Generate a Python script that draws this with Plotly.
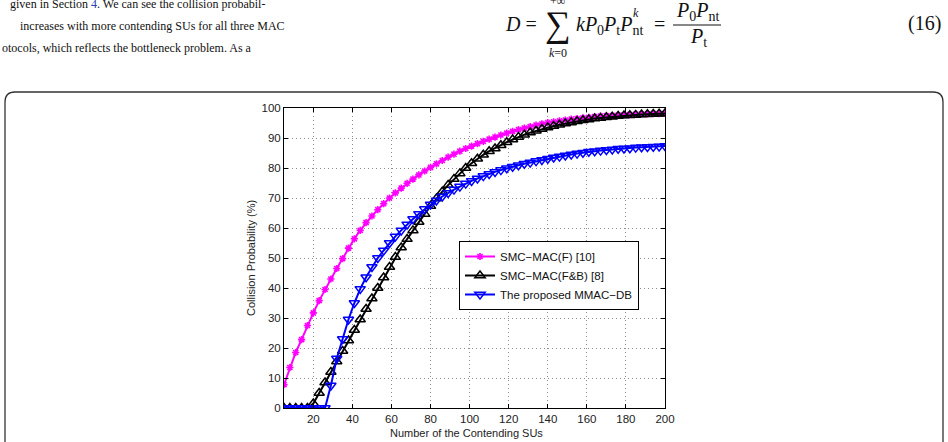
import plotly.graph_objects as go

# ---------------- data ----------------
x_sus = list(range(5, 201, 3))  # 5, 8, ..., 200

smc_f = [7.8, 13.5, 18.5, 22.8, 27.5, 31.7, 35.8, 39.5, 43.0, 46.5,
         49.8, 53.3, 56.4, 59.2, 61.8, 64.0, 66.1, 68.1, 70.0, 71.7,
         73.3, 74.9, 76.3, 77.7, 79.0, 80.2, 81.4, 82.5, 83.6, 84.6,
         85.6, 86.5, 87.3, 88.1, 88.9, 89.6, 90.3, 91.0, 91.6, 92.2,
         92.8, 93.3, 93.8, 94.3, 94.7, 95.1, 95.4, 95.7, 96.0, 96.3,
         96.5, 96.7, 96.9, 97.1, 97.3, 97.4, 97.5, 97.6, 97.7, 97.8,
         97.9, 98.0, 98.0, 98.1, 98.1, 98.2]

smc_fb = [0.0, 0.0, 0.0, 0.0, 0.0, 1.5, 5.0, 8.5, 12.0, 15.5,
          19.0, 22.5, 26.0, 29.5, 33.0, 36.5, 40.0, 43.5, 47.0, 50.3,
          53.5, 56.3, 59.2, 62.0, 64.7, 67.3, 69.8, 72.1, 74.3, 76.3,
          78.2, 80.0, 81.6, 83.1, 84.4, 85.6, 86.5, 87.6, 88.6, 89.5,
          90.3, 91.1, 91.8, 92.4, 93.0, 93.5, 94.0, 94.4, 94.8, 95.2,
          95.6, 95.9, 96.2, 96.5, 96.7, 96.9, 97.1, 97.3, 97.5, 97.6,
          97.7, 97.8, 97.9, 98.0, 98.1, 98.2]

mmac_db = [0.0, 0.0, 0.0, 0.0, 0.0, 0.0, 0.0, 0.0, 7.5, 16.5,
           23.0, 29.5, 35.0, 39.7, 43.6, 47.0, 50.0, 52.5, 55.0, 57.2,
           59.2, 61.2, 63.0, 64.7, 66.3, 67.8, 69.2, 70.5, 71.7, 72.8,
           73.8, 74.8, 75.7, 76.5, 77.3, 78.0, 78.7, 79.3, 79.9, 80.4,
           80.9, 81.4, 81.8, 82.3, 82.7, 83.1, 83.5, 83.8, 84.2, 84.5,
           84.8, 85.1, 85.4, 85.6, 85.8, 86.0, 86.2, 86.4, 86.5, 86.6,
           86.8, 86.9, 87.0, 87.1, 87.2, 87.3]

series_names = ["SMC\u2212MAC(F) [10]", "SMC\u2212MAC(F&B) [8]", "The proposed MMAC\u2212DB"]
x_ticks = list(range(20, 201, 20))
y_ticks = list(range(0, 101, 10))

# ---------------- layout helpers ----------------
W, H = 948, 442
L, R, T, B = 284, 283, 108, 34
PW, PH = W - L - R, H - T - B


def px(xp):
    return (xp - L) / PW


def py(yp):
    return (H - B - yp) / PH


fig = go.Figure()
fig.add_trace(go.Scatter(
    x=x_sus, y=smc_f, name=series_names[0], mode="lines+markers",
    line=dict(color="#ff00ff", width=2),
    marker=dict(symbol="asterisk-open", size=6, color="#ff00ff",
                line=dict(color="#ff00ff", width=1.6))))
fig.add_trace(go.Scatter(
    x=x_sus, y=smc_fb, name=series_names[1], mode="lines+markers",
    line=dict(color="#000000", width=2),
    marker=dict(symbol="triangle-up-open", size=9, color="#000000",
                line=dict(color="#000000", width=1.5))))
fig.add_trace(go.Scatter(
    x=x_sus, y=mmac_db, name=series_names[2], mode="lines+markers",
    line=dict(color="#0000ff", width=2),
    marker=dict(symbol="triangle-down-open", size=9, color="#0000ff",
                line=dict(color="#0000ff", width=1.5))))

axis_common = dict(
    showline=True, linecolor="black", linewidth=1, mirror="allticks",
    ticks="inside", ticklen=4, tickcolor="black",
    showgrid=True, gridcolor="#8c8c8c", griddash="1px,3px", gridwidth=1,
    zeroline=False,
    tickfont=dict(family="Liberation Sans, Arial", size=11.5, color="#222"),
)
fig.update_xaxes(range=[5, 200], tickvals=x_ticks, **axis_common)
fig.update_yaxes(range=[0, 100], tickvals=y_ticks, **axis_common)

serif = "Liberation Serif, Times New Roman, serif"
sans = "Liberation Sans, Arial"
ann = []
# axis titles
ann.append(dict(text="Number of the Contending SUs", x=px(466), y=py(433),
                xanchor="center", yanchor="middle",
                showarrow=False, font=dict(family=sans, size=11, color="#222")))
ann.append(dict(text="Collision Probability (%)", x=px(251), y=py(258), textangle=-90,
                xanchor="center", yanchor="middle",
                showarrow=False, font=dict(family=sans, size=11, color="#222")))
# paper text above the figure
para = [
    ("given in Section <span style='color:#2b3fb0'>4</span>. We can see the collision probabil-", 8, 4),
    ("increases with more contending SUs for all three MAC", 18, 26),
    ("otocols, which reflects the bottleneck problem. As a", 0, 48),
]
for t, x0, y0 in para:
    ann.append(dict(text=t, x=px(x0), y=py(y0), xanchor="left", yanchor="middle",
                    showarrow=False, font=dict(family=serif, size=12, color="#111")))
# equation (16)
eq = [
    ("<i>D</i> =", 521, 24, 20, "center"),
    ("\u2211", 558, 24, 36, "center"),
    ("+\u221e", 557, 1, 12, "center"),
    ("<i>k</i>=0", 558, 53, 12, "center"),
    ("<i>kP</i><sub>0</sub><i>P</i><sub>t</sub><i>P</i><sub>nt</sub>", 574, 25, 20, "left"),
    ("<i>k</i>", 631, 13, 12, "left"),
    ("=", 659, 24, 20, "center"),
    ("<i>P</i><sub>0</sub><i>P</i><sub>nt</sub>", 697, 12, 20, "center"),
    ("<i>P</i><sub>t</sub>", 698, 38, 20, "center"),
    ("(16)", 943, 24, 20, "right"),
]
for t, x0, y0, s, xa in eq:
    ann.append(dict(text=t, x=px(x0), y=py(y0), xanchor=xa, yanchor="middle",
                    showarrow=False, font=dict(family=serif, size=s, color="#111")))

for a in ann:
    a.setdefault("xref", "paper")
    a.setdefault("yref", "paper")

# frame around the figure (rounded box) and fraction bar
x1, x2, y1, y2, r = px(5), px(943), py(92), py(460), 10
rx, ry = r / PW, r / PH
frame_path = (f"M {x1},{y2} L {x1},{y1 - ry} Q {x1},{y1} {x1 + rx},{y1} "
              f"L {x2 - rx},{y1} Q {x2},{y1} {x2},{y1 - ry} L {x2},{y2}")
shapes = [
    dict(type="path", path=frame_path, xref="paper", yref="paper",
         line=dict(color="#333", width=1.3)),
    dict(type="line", x0=px(673), x1=px(721), y0=py(25), y1=py(25),
         xref="paper", yref="paper", line=dict(color="#111", width=1)),
]

fig.update_layout(
    width=W, height=H,
    margin=dict(l=L, r=R, t=T, b=B),
    paper_bgcolor="white", plot_bgcolor="white",
    showlegend=True,
    legend=dict(x=px(459), y=py(241), xanchor="left", yanchor="top",
                bgcolor="white", bordercolor="black", borderwidth=1,
                font=dict(family=sans, size=11.5, color="#111"),
                tracegroupgap=0),
    annotations=ann, shapes=shapes,
)

fig.write_html("out.html")
